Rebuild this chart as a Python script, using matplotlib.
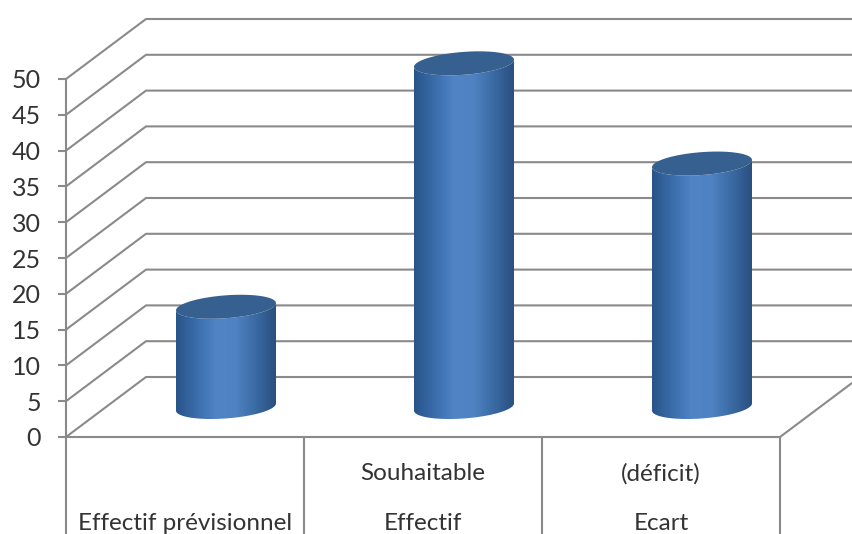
"""Oblique 3D cylinder chart of staffing numbers, drawn on a plain 2D axes."""

import numpy as np
import matplotlib
matplotlib.use("Agg")
import matplotlib.pyplot as plt
from matplotlib.colors import LinearSegmentedColormap
from matplotlib.patches import PathPatch, Polygon
from matplotlib.path import Path

CATEGORIES = ["Effectif prévisionnel", "Effectif", "Ecart"]
SUB_LABELS = ["", "Souhaitable", "(déficit)"]
VALUES = [14, 48, 34]
Y_TICKS = list(range(0, 55, 5))

W, H = 853, 534
LEFT, RIGHT, BOTTOM, TOP = 66, 780, 437, 79  # plot box in pixels

GREY = "#8a8a8a"
TEXT = "#333333"
TOP_FACE = "#36608f"

plt.rcParams["font.family"] = ["Lato", "DejaVu Sans"]

fig = plt.figure(figsize=(W / 100, H / 100), dpi=100)
ax = fig.add_axes([LEFT / W, 1 - BOTTOM / H, (RIGHT - LEFT) / W, (BOTTOM - TOP) / H])
ax.patch.set_visible(False)

# pixel sizes expressed in data units
px_x = 3 / (RIGHT - LEFT)
px_y = 50 / (BOTTOM - TOP)
depth_x = 80 * px_x
depth_y = 60 * px_y

SKEW = 15
MAJOR = np.sqrt(50 ** 2 - SKEW ** 2)


def ellipse_points(cx, cy, t):
    """Skewed ellipse: a floor-parallel circle under the oblique projection."""
    x = cx + (MAJOR * np.cos(t) + SKEW * np.sin(t)) * px_x
    y = cy + 12 * np.sin(t) * px_y
    return x, y


def draw_cylinder(ax, cx, base, height, cmap):
    extreme = np.arctan2(SKEW, MAJOR)  # parameter of the rightmost point
    t_low = np.linspace(np.pi + extreme, 2 * np.pi + extreme, 60)
    xb, yb = ellipse_points(cx, base, t_low)
    xt, yt = ellipse_points(cx, base + height, t_low[::-1])
    body = np.column_stack([np.r_[xb, xt], np.r_[yb, yt]])

    clip = PathPatch(Path(np.vstack([body, body[0]]), closed=True),
                     transform=ax.transData, fc="none", ec="none")
    ax.add_patch(clip)
    half = 50 * px_x
    im = ax.imshow(np.linspace(0, 1, 256)[None, :], cmap=cmap, aspect="auto",
                   extent=[cx - half, cx + half, yb.min(), base + height + 15 * px_y],
                   zorder=3)
    im.set_clip_box(fig.bbox)
    im.set_clip_path(clip)

    t = np.linspace(0, 2 * np.pi, 120)
    xe, ye = ellipse_points(cx, base + height, t)
    ax.add_patch(Polygon(np.column_stack([xe, ye]), closed=True, fc=TOP_FACE,
                         ec="none", zorder=4, clip_on=False))


# left wall and back wall grid
for v in Y_TICKS:
    ax.plot([-0.5, -0.5 + depth_x, 2.5 + depth_x], [v, v + depth_y, v + depth_y],
            color=GREY, lw=1.5, clip_on=False, zorder=1)
ax.plot([2.5, 2.5 + depth_x], [0, depth_y], color=GREY, lw=1.5, clip_on=False, zorder=1)

side_cmap = LinearSegmentedColormap.from_list(
    "cyl", ["#285488", "#3a6cab", "#4f84c6", "#4f82c2", "#3a6aa3", "#2a4f80"])
for i, value in enumerate(VALUES):
    draw_cylinder(ax, i + depth_x / 2 + 1 * px_x, depth_y / 2, value, side_cmap)

ax.set_xlim(-0.5, 2.5)
ax.set_ylim(0, 50)

for name in ("top", "right"):
    ax.spines[name].set_visible(False)
for name in ("left", "bottom"):
    ax.spines[name].set_color(GREY)
    ax.spines[name].set_linewidth(1.5)

ax.set_yticks(Y_TICKS)
ax.tick_params(axis="y", length=6, width=1.5, color=GREY, labelcolor=TEXT,
               labelsize=18, pad=12)
# long x ticks act as the category table dividers
ax.set_xticks([-0.5, 0.5, 1.5, 2.5], labels=[])
ax.tick_params(axis="x", length=72, width=1.5, color=GREY)

for i, (name, sub) in enumerate(zip(CATEGORIES, SUB_LABELS)):
    ax.text(i, -12.15, name, ha="center", va="center", fontsize=17.5,
            color=TEXT, clip_on=False)
    if sub:
        ax.text(i, -5.15, sub, ha="center", va="center", fontsize=17.5,
                color=TEXT, clip_on=False)

fig.savefig("out.png", dpi=100)
